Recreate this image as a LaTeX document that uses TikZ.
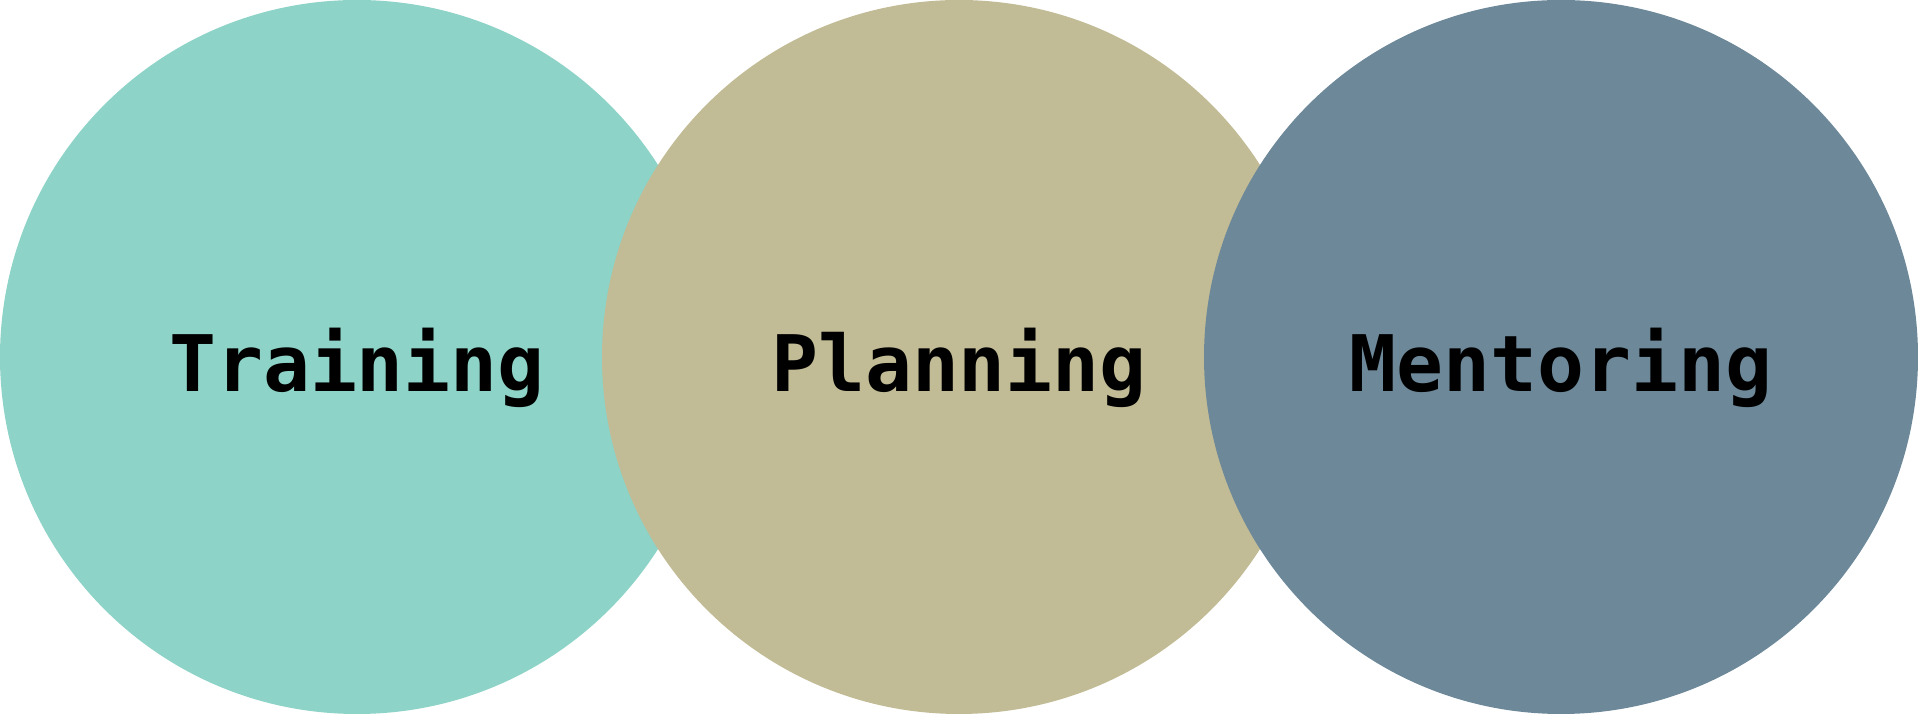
\documentclass[tikz,border=0pt]{standalone}
\usepackage{fontspec}
\newfontfamily\labelfont{DejaVu Sans Mono}[BoldFont={DejaVu Sans Mono Bold}]
\definecolor{trainfill}{HTML}{8DD3C7}
\definecolor{planfill}{HTML}{C2BC96}
\definecolor{mentorfill}{HTML}{6C8899}
\tikzset{
  disc/.style={circle, draw=none, minimum size=714pt, inner sep=0pt, outer sep=0pt},
  disclabel/.style={anchor=base, inner sep=0pt, text=black,
    font=\labelfont\bfseries\fontsize{78}{90}\selectfont}
}
\begin{document}
\begin{tikzpicture}[x=1pt, y=1pt]
  \useasboundingbox (0,0) rectangle (1918,714);
  % three overlapping discs, later ones on top
  \node[disc, fill=trainfill]  (training)  at (357,357)  {};
  \node[disc, fill=planfill]   (planning)  at (959,357)  {};
  \node[disc, fill=mentorfill] (mentoring) at (1561,357) {};
  % labels, baseline a little below each centre
  \node[disclabel] (ltraining)  at ([yshift=-35pt]training.center)  {Training};
  \node[disclabel] (lplanning)  at ([yshift=-35pt]planning.center)  {Planning};
  \node[disclabel] (lmentoring) at ([yshift=-35pt]mentoring.center) {Mentoring};
\end{tikzpicture}
\end{document}
